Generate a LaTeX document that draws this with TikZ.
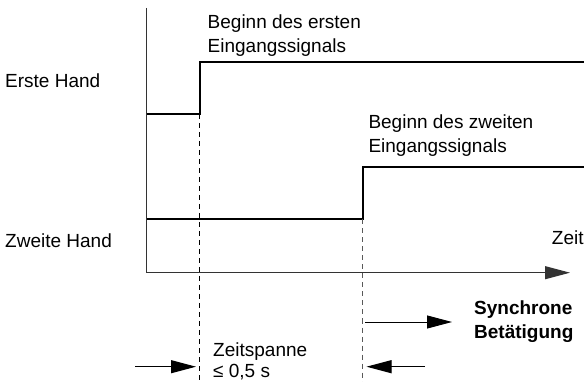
\documentclass[tikz,border=0pt]{standalone}
\usepackage{fontspec}
\setmainfont{Liberation Sans}
\usetikzlibrary{arrows.meta}
\begin{document}
\begin{tikzpicture}[x=1pt,y=-1pt,
  lbl/.style={anchor=base west,inner sep=0pt,font=\fontsize{19}{23.7}\selectfont,align=left},
  sig/.style={line width=2pt,black},
  axis/.style={line width=1pt,black!80},
  dash1/.style={line width=0.9pt,dash pattern=on 5pt off 4pt},
  tri/.style={-{Triangle[length=25pt,width=13pt]}},
  thinarrow/.style={line width=1pt,tri}]
\useasboundingbox (0,0) rectangle (584,382);
% axes
\coordinate (ytop) at (146.7,8);
\coordinate (orig) at (146.7,272.7);
\coordinate (xend) at (570,272.7);
\draw[axis] (ytop) -- (orig);
\draw[axis,tri] (orig) -- (xend);
% signal 1
\coordinate (s1a) at (146.7,114);
\coordinate (s1b) at (199.5,114);
\coordinate (s1c) at (199.5,61.7);
\coordinate (s1d) at (584,61.7);
\draw[sig] (s1a) -- (s1b) -- (s1c) -- (s1d);
% signal 2
\coordinate (s2a) at (146.7,219.5);
\coordinate (s2b) at (362.7,219.5);
\coordinate (s2c) at (362.7,167.3);
\coordinate (s2d) at (584,167.3);
\draw[sig] (s2a) -- (s2b) -- (s2c) -- (s2d);
% dashed
\coordinate (d1) at (199.5,382);
\coordinate (d2) at (362.7,382);
\draw[dash1,black] (s1b) -- (d1);
\draw[dash1,black!65] (s2b) -- (d2);
% labels
\node[lbl] (erste) at (5,87.3) {Erste Hand};
\node[lbl] (zweite) at (5,248) {Zweite Hand};
\node[lbl] (zeit) at (551.7,245) {Zeit};
\node[lbl] (b1) at (207.5,52.7) {Beginn des ersten\\Eingangssignals};
\node[lbl] (b2) at (368.3,152.7) {Beginn des zweiten\\Eingangssignals};
\node[lbl,font=\fontsize{19}{23.7}\selectfont\bfseries] (sync) at (474,338) {Synchrone\\Betätigung};
\node[lbl,font=\fontsize{19}{21.3}\selectfont] (zs) at (213,377.5) {Zeitspanne\\≤ 0,5 s};
% arrows
\coordinate (sa) at (365,322);
\coordinate (sb) at (452,322);
\draw[thinarrow] (sa) -- (sb);
\coordinate (la) at (135,366.7);
\coordinate (lb) at (196,366.7);
\draw[thinarrow] (la) -- (lb);
\coordinate (ra) at (425,366.7);
\coordinate (rb) at (366.5,366.7);
\draw[thinarrow] (ra) -- (rb);
\end{tikzpicture}
\end{document}
